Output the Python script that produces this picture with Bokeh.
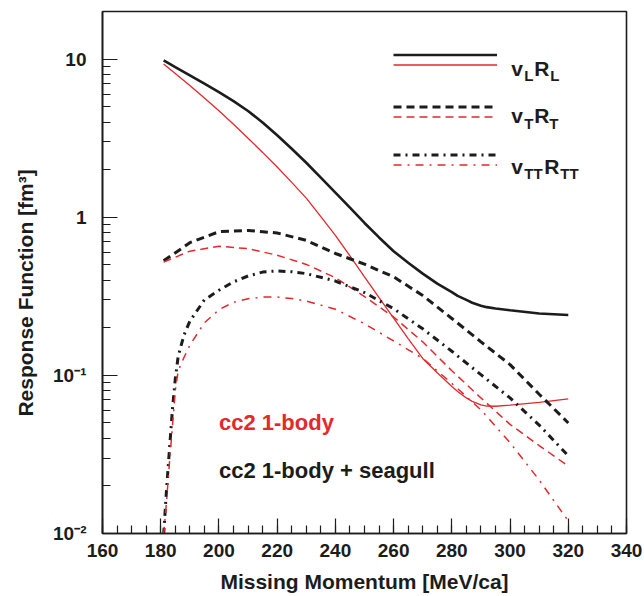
from bokeh.plotting import figure
from bokeh.models import FixedTicker, Label, Legend, LegendItem
from bokeh.embed import file_html
from bokeh.resources import INLINE

# ---------------- data ----------------
x_L = [181, 185, 190, 195, 200, 205, 210, 215, 220, 225, 230, 235, 240, 245, 250, 255, 260, 265, 270, 275,
       280, 282, 285, 287, 290, 292, 295, 300, 310, 320]
black_L = [9.8, 8.9, 7.9, 7.0, 6.18, 5.42, 4.70, 3.97, 3.30, 2.71, 2.21, 1.78, 1.43, 1.15, 0.92, 0.745, 0.61,
           0.515, 0.44, 0.38, 0.336, 0.318, 0.30, 0.288, 0.276, 0.27, 0.265, 0.258, 0.246, 0.241]
red_L = [9.3, 8.1, 6.8, 5.68, 4.71, 3.87, 3.16, 2.57, 2.08, 1.66, 1.32, 1.01, 0.767, 0.569, 0.42, 0.31, 0.23,
         0.171, 0.128, 0.104, 0.085, 0.079, 0.072, 0.0685, 0.065, 0.064, 0.0638, 0.0648, 0.0675, 0.071]

x_T = [181, 190, 200, 210, 220, 230, 240, 250, 260, 270, 280, 290, 300, 310, 320]
black_T = [0.53, 0.69, 0.81, 0.825, 0.795, 0.714, 0.59, 0.505, 0.42, 0.32, 0.229, 0.163, 0.117, 0.076, 0.05]
red_T = [0.52, 0.61, 0.655, 0.633, 0.575, 0.503, 0.415, 0.315, 0.234, 0.163, 0.107, 0.072, 0.049, 0.036, 0.0267]

x_TT = [181, 182, 183, 184, 185, 186, 188, 190, 195, 200, 205, 210, 215, 220, 225, 230, 240, 250, 260, 270, 280, 290, 300, 310, 320]
black_TT = [0.0098, 0.019, 0.034, 0.06, 0.095, 0.132, 0.18, 0.22, 0.30, 0.345, 0.39, 0.425, 0.45, 0.458, 0.452, 0.44, 0.395, 0.334, 0.264, 0.197, 0.142, 0.101, 0.072, 0.0485, 0.031]
red_TT = [0.0098, 0.016, 0.028, 0.047, 0.08, 0.107, 0.13, 0.155, 0.215, 0.26, 0.29, 0.305, 0.313, 0.313, 0.306, 0.295, 0.262, 0.212, 0.165, 0.128, 0.089, 0.0605, 0.0375, 0.0218, 0.012]

x_major = [160, 180, 200, 220, 240, 260, 280, 300, 320, 340]
x_minor = list(range(160, 345, 5))
y_major = [0.01, 0.1, 1, 10]
y_minor = [m * d for d in (0.01, 0.1, 1, 10) for m in range(2, 10)]
y_labels = {0.01: "10\u207b\u00b2", 0.1: "10\u207b\u00b9", 1: "1", 10: "10"}

BLACK = "#1c1c1c"
RED = "#e4282b"
FONT = "Liberation Sans"
NBSP = "\u00a0"

p = figure(width=644, height=596, x_range=(160, 340), y_range=(0.01, 20),
           y_axis_type="log", output_backend="svg", toolbar_location=None,
           min_border_left=102, min_border_right=18, min_border_top=11, min_border_bottom=63)
p.grid.visible = False
p.outline_line_color = BLACK
p.outline_line_width = 1.6
p.background_fill_color = "white"
p.border_fill_color = "white"

p.xaxis.ticker = FixedTicker(ticks=x_major, minor_ticks=x_minor)
p.yaxis.ticker = FixedTicker(ticks=y_major, minor_ticks=y_minor)
p.yaxis.major_label_overrides = y_labels

for ax in (p.xaxis, p.yaxis):
    ax.axis_line_color = BLACK
    ax.axis_line_width = 1.6
    ax.major_tick_line_color = BLACK
    ax.minor_tick_line_color = BLACK
    ax.major_tick_line_width = 1.2
    ax.minor_tick_line_width = 1.2
    ax.major_tick_in = 15
    ax.major_tick_out = 0
    ax.minor_tick_in = 8
    ax.minor_tick_out = 0
    ax.major_label_text_font = FONT
    ax.major_label_text_font_style = "bold"
    ax.major_label_text_font_size = "19px"
    ax.major_label_text_color = BLACK
    ax.axis_label_text_font = FONT
    ax.axis_label_text_font_style = "bold"
    ax.axis_label_text_font_size = "21px"
    ax.axis_label_text_color = BLACK

p.xaxis.axis_label = "Missing Momentum [MeV/ca]"
p.yaxis.axis_label = "Response Function [fm\u00b3]" + NBSP * 7
p.xaxis.major_label_standoff = 10
p.yaxis.major_label_standoff = 16
p.xaxis.axis_label_standoff = 10
p.yaxis.axis_label_standoff = 13

rL_b = p.line(x_L, black_L, line_color=BLACK, line_width=2.6)
rL_r = p.line(x_L, red_L, line_color=RED, line_width=1.3)
rT_b = p.line(x_T, black_T, line_color=BLACK, line_width=3, line_dash="8 5")
rT_r = p.line(x_T, red_T, line_color=RED, line_width=1.5, line_dash="8 5")
rTT_b = p.line(x_TT, black_TT, line_color=BLACK, line_width=3, line_dash="7 5 2 5")
rTT_r = p.line(x_TT, red_TT, line_color=RED, line_width=1.5, line_dash="8 6 2 6")

# legend samples: three two-row legends
def pair_legend(rb, rr, loc):
    lg = Legend(items=[LegendItem(label=" ", renderers=[rb]),
                       LegendItem(label=" ", renderers=[rr])],
                location=loc, orientation="vertical",
                glyph_width=104, glyph_height=9, label_height=9, label_width=0,
                label_standoff=0, spacing=1, padding=0, margin=0,
                label_text_font_size="1px",
                border_line_alpha=0, background_fill_alpha=0)
    p.add_layout(lg)

pair_legend(rL_b, rL_r, (291, 464))
pair_legend(rT_b, rT_r, (291, 412))
pair_legend(rTT_b, rTT_r, (291, 364))

# legend texts with subscripts
def sub_text(x, y, parts):
    for txt, dx, dy, size in parts:
        p.add_layout(Label(x=x, y=y, x_offset=dx, y_offset=dy, text=txt,
                           text_font=FONT, text_font_style="bold",
                           text_font_size=size, text_color=BLACK,
                           text_baseline="alphabetic", text_align="left"))

BIG, SMALL = "21px", "15px"
sub_text(300.4, 8.78, [("v", 0, 0, BIG), ("L", 13, -7, SMALL), ("R", 23, 0, BIG), ("L", 39, -7, SMALL)])
sub_text(300.4, 4.43, [("v", 0, 0, BIG), ("T", 13, -8, SMALL), ("R", 23, 0, BIG), ("T", 38, -8, SMALL)])
sub_text(300.4, 2.08, [("v", 0, 0, BIG), ("TT", 13, -7, SMALL), ("R", 33, 0, BIG), ("TT", 49, -7, SMALL)])

p.add_layout(Label(x=200, y=0.050, text="cc2 1-body", text_font=FONT,
                   text_font_style="bold", text_font_size="22px", text_color=RED,
                   text_baseline="alphabetic"))
p.add_layout(Label(x=200, y=0.025, text="cc2 1-body + seagull", text_font=FONT,
                   text_font_style="bold", text_font_size="22px", text_color=BLACK,
                   text_baseline="alphabetic"))

open("out.html", "w").write(file_html(p, INLINE))
